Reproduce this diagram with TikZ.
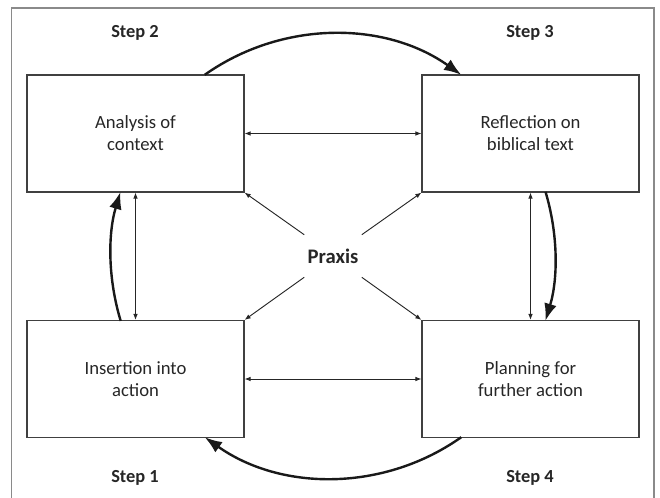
\documentclass[tikz,border=0pt]{standalone}
\usepackage{fontspec}
\setmainfont{Carlito}
\usetikzlibrary{arrows.meta, positioning, calc}
\definecolor{boxline}{HTML}{404040}
\definecolor{frameline}{HTML}{8A8A8A}
\definecolor{txt}{HTML}{262626}

\begin{document}
\begin{tikzpicture}[x=0.75pt, y=0.75pt]

    \tikzset{
        stageBox/.style={draw=boxline, line width=0.9pt, minimum width=162.75pt, minimum height=87.75pt, align=center, text=txt, font=\fontsize{14}{16.5}\selectfont},
        stepLabel/.style={text=txt, font=\fontsize{13.8}{16.5}\selectfont\bfseries},
        thinArrow/.style={{Latex[length=4.5pt,width=3.5pt]}-{Latex[length=4.5pt,width=3.5pt]}, line width=0.7pt, black!85},
        spokeArrow/.style={-{Latex[length=4.5pt,width=3.5pt]}, line width=0.7pt, black!85},
        cycleArrow/.style={-{Latex[length=13pt,width=9.5pt]}, line width=1.8pt, black!90}
    }

    % Rahmen und Bildgroesse
    \useasboundingbox (0,0) rectangle (660,497);
    \draw[frameline, line width=0.8pt] (11.5,-5) -- (11.5,489) -- (654,489) -- (654,-5);

    % Kaesten (Schritte)
    \node[stageBox] (analysis)   at (135.5,363.5) {Analysis of\\context};
    \node[stageBox] (reflection) at (530.5,363.5) {Reflection on\\biblical text};
    \node[stageBox] (insertion)  at (135.5,118)   {Insertion into\\action};
    \node[stageBox] (planning)   at (530.5,118)   {Planning for\\further action};

    % Mitte
    \node[minimum width=42.75pt, minimum height=31.5pt, inner sep=0pt, text=txt, font=\fontsize{15.5}{18}\selectfont\bfseries] (praxis) at (333,241) {Praxis};

    % Beschriftungen
    \node[stepLabel] (step2) at (135,464) {Step 2};
    \node[stepLabel] (step3) at (530,464) {Step 3};
    \node[stepLabel] (step1) at (135,19)  {Step 1};
    \node[stepLabel] (step4) at (530,19)  {Step 4};

    % Verbindungen zwischen den Kaesten
    \draw[thinArrow] (analysis.east) -- (reflection.west);
    \draw[thinArrow] (insertion.east) -- (planning.west);
    \draw[thinArrow] (analysis.south) -- (insertion.north);
    \draw[thinArrow] (reflection.south) -- (planning.north);

    % Praxis nach aussen
    \draw[spokeArrow] (praxis.north west) -- (analysis.south east);
    \draw[spokeArrow] (praxis.north east) -- (reflection.south west);
    \draw[spokeArrow] (praxis.south west) -- (insertion.north east);
    \draw[spokeArrow] (praxis.south east) -- (planning.north west);

    % Kreislauf
    \draw[cycleArrow] (praxis.center) ++(125.3:166.5pt) arc[start angle=125.3, end angle=54.7, radius=166.5pt];
    \draw[cycleArrow] (praxis.center) ++(16.8:166.5pt) arc[start angle=16.8, end angle=-17, radius=166.5pt];
    \draw[cycleArrow] (praxis.center) ++(-54.7:166.5pt) arc[start angle=-54.7, end angle=-125.3, radius=166.5pt];
    \draw[cycleArrow] (praxis.center) ++(197:166.5pt) arc[start angle=197, end angle=163.2, radius=166.5pt];

\end{tikzpicture}
\end{document}
